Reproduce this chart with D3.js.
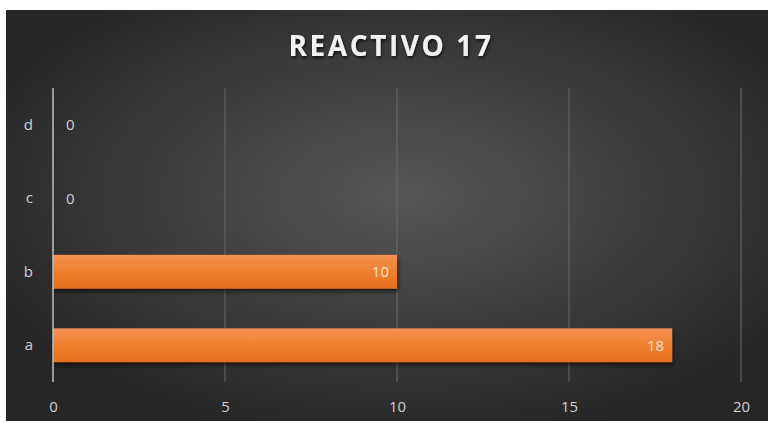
<!DOCTYPE html>
<html><head><meta charset="utf-8">
<script src="https://cdn.jsdelivr.net/npm/d3@7"></script>
<style>body{margin:0;background:#fff;}svg{display:block;}</style>
</head><body>
<svg id="c" width="768" height="423"></svg>
<script>
const categories = ["a","b","c","d"];
const values = [18,10,0,0];
const xTicks = [0,5,10,15,20];
const title = "REACTIVO 17";

const svg = d3.select("#c");
const defs = svg.append("defs");
const bg = defs.append("radialGradient").attr("id","bg").attr("cx","52%").attr("cy","45%").attr("r","60%");
bg.append("stop").attr("offset","0%").attr("stop-color","#575757");
bg.append("stop").attr("offset","100%").attr("stop-color","#262626");
const bar = defs.append("linearGradient").attr("id","bar").attr("x1",0).attr("y1",0).attr("x2",0).attr("y2",1);
bar.append("stop").attr("offset","0%").attr("stop-color","#f39256");
bar.append("stop").attr("offset","50%").attr("stop-color","#f07f2e");
bar.append("stop").attr("offset","100%").attr("stop-color","#e56f1c");
const f = defs.append("filter").attr("id","sh").attr("x","-5%").attr("y","-20%").attr("width","110%").attr("height","160%");
f.append("feDropShadow").attr("dx",1).attr("dy",3).attr("stdDeviation",2).attr("flood-color","#000").attr("flood-opacity",0.6);
const tf = defs.append("filter").attr("id","tsh");
tf.append("feDropShadow").attr("dx",1).attr("dy",2).attr("stdDeviation",1.5).attr("flood-color","#000").attr("flood-opacity",0.7);

svg.append("rect").attr("x",6).attr("y",10).attr("width",762).attr("height",411).attr("fill","url(#bg)");

const x = d3.scaleLinear().domain([0,20]).range([53,741]);
const y = d3.scaleBand().domain(categories.slice().reverse()).range([88,382]).paddingInner(0.54).paddingOuter(0.27);

svg.append("text").attr("x",391).attr("y",56).attr("text-anchor","middle")
  .attr("font-family","Open Sans, sans-serif").attr("font-weight","bold").attr("font-size",28)
  .attr("letter-spacing",2.6).attr("fill","#f2f2f2").attr("filter","url(#tsh)").text(title);

// gridlines
svg.append("g").selectAll("line").data(xTicks.filter(d=>d>0)).join("line")
  .attr("x1",d=>x(d)).attr("x2",d=>x(d)).attr("y1",88).attr("y2",382)
  .attr("stroke","#6a6a6a").attr("stroke-width",1);

// x axis labels
const xa = svg.append("g").attr("transform","translate(0,407)")
  .call(d3.axisBottom(x).tickValues(xTicks).tickSize(0).tickPadding(0));
xa.select(".domain").remove();
xa.selectAll("text").attr("font-family","Open Sans, sans-serif").attr("font-size",15).attr("fill","#d0d0d0").attr("dy","0.35em");

// y axis
const ya = svg.append("g").attr("transform","translate(53,0)")
  .call(d3.axisLeft(y).tickSize(0).tickPadding(20));
ya.select(".domain").remove();
ya.selectAll("text").attr("font-family","Open Sans, sans-serif").attr("font-size",15).attr("fill","#d0d0d0");

// bars
const data = categories.map((c,i)=>({c,v:values[i]}));
svg.append("g").selectAll("rect").data(data.filter(d=>d.v>0)).join("rect")
  .attr("x",x(0)).attr("y",d=>y(d.c)).attr("width",d=>x(d.v)-x(0)).attr("height",y.bandwidth())
  .attr("fill","url(#bar)").attr("filter","url(#sh)");

svg.append("line").attr("x1",x(0)).attr("x2",x(0)).attr("y1",88).attr("y2",382)
  .attr("stroke","#bfbfbf").attr("stroke-width",1.5);

// labels
svg.append("g").selectAll("text").data(data).join("text")
  .attr("x",d=>d.v>0 ? x(d.v)-8 : x(0)+13)
  .attr("y",d=>y(d.c)+y.bandwidth()/2).attr("dy","0.35em")
  .attr("text-anchor",d=>d.v>0?"end":"start")
  .attr("font-family","Open Sans, sans-serif").attr("font-size",15)
  .attr("fill",d=>d.v>0?"#fbe3d2":"#d0d0d0").text(d=>d.v);
</script>
</body></html>
